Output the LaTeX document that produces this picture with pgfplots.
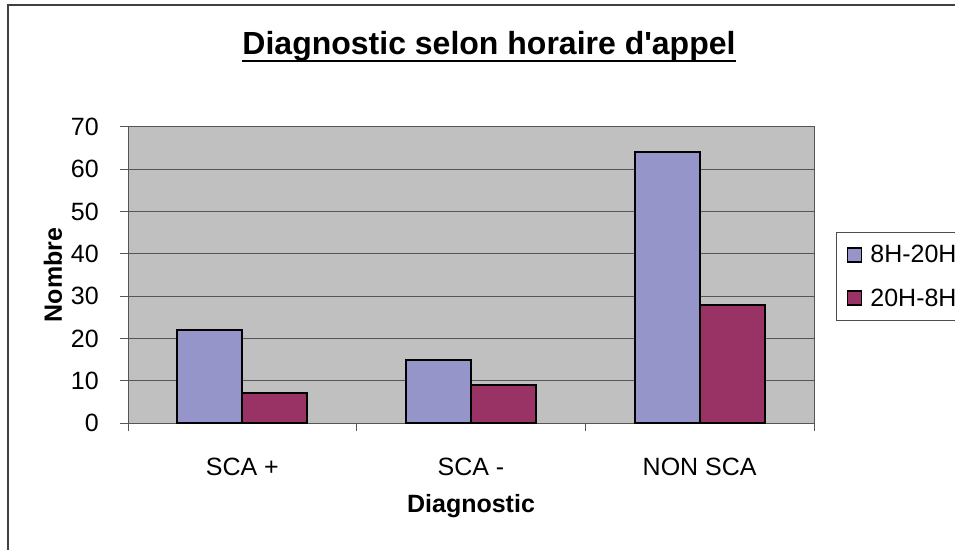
\documentclass[border=0pt]{standalone}
\usepackage{fontspec}
\setmainfont{Liberation Sans}
\usepackage{pgfplots}
\pgfplotsset{compat=1.18}
\definecolor{barblue}{HTML}{9595C9}
\definecolor{barred}{HTML}{993366}
\definecolor{plotbg}{HTML}{C0C0C0}
\definecolor{gridc}{HTML}{555555}
\begin{document}
\begin{tikzpicture}
\useasboundingbox (0,0) rectangle (716.25pt,411.75pt);
\draw[line width=1.1pt, color=black!75] (6pt,-5pt) -- (6pt,408pt) -- (730pt,408pt);
\node[anchor=base, inner sep=0pt, font=\bfseries\fontsize{24}{28}\selectfont] (ttl) at (366.75pt,370.5pt) {Diagnostic selon horaire d\textquotesingle appel};
\draw[line width=2pt] (ttl.west |- 0,366pt) -- (ttl.east |- 0,366pt);
\begin{axis}[
  at={(96pt,94.5pt)}, anchor=south west,
  scale only axis, width=514.5pt, height=222pt,
  ybar=0pt, bar width=0.284,
  xmin=-0.5, xmax=2.5, ymin=0, ymax=70,
  xtick={0,1,2}, xticklabels={SCA +, SCA -, NON SCA},
  ytick={0,10,...,70},
  tick pos=left, tick align=outside,
  xtick style={draw=none},
  ytick style={draw=gridc, line width=0.75pt},
  major tick length=6pt,
  extra x ticks={-0.5,0.5,1.5,2.5},
  extra x tick labels={},
  extra x tick style={xtick style={draw=gridc, line width=0.75pt}, major tick length=6pt},
  ymajorgrids, major grid style={draw=gridc, line width=0.75pt},
  axis background/.style={fill=plotbg},
  axis line style={draw=gridc, line width=0.75pt},
  /pgf/number format/assume math mode=true,
  ticklabel style={font=\fontsize{18.75}{22}\selectfont},
  xticklabel style={inner sep=0pt, anchor=center, yshift=-27pt},
  yticklabel style={inner sep=0pt, anchor=east, xshift=-15.75pt},
  xlabel={Diagnostic}, ylabel={Nombre},
  label style={font=\bfseries\fontsize{18.75}{22}\selectfont},
  xlabel style={at={(axis description cs:0.5,-0.280)}, anchor=center, inner sep=0pt},
  ylabel style={at={(axis description cs:-0.1093,0.5)}, anchor=center, inner sep=0pt},
  legend style={at={(axis description cs:1.0321,0.6453)}, anchor=north west,
    draw=black!70, line width=0.75pt, fill=white, inner xsep=7.5pt, inner ysep=9.5pt,
    row sep=18pt, column sep=6pt,
    font=\fontsize{18.75}{22}\selectfont,
    nodes={inner sep=0pt, anchor=west}},
  legend image code/.code={\draw[#1, draw=black, line width=1.4pt] (0pt,-5.25pt) rectangle (10.5pt,5.25pt);},
]
\addplot[fill=barblue, draw=black, line width=1.5pt] coordinates {(0,22) (1,15) (2,64)};
\addplot[fill=barred, draw=black, line width=1.5pt] coordinates {(0,7) (1,9) (2,28)};
\legend{8H-20H, 20H-8H}
\end{axis}
\end{tikzpicture}
\end{document}
